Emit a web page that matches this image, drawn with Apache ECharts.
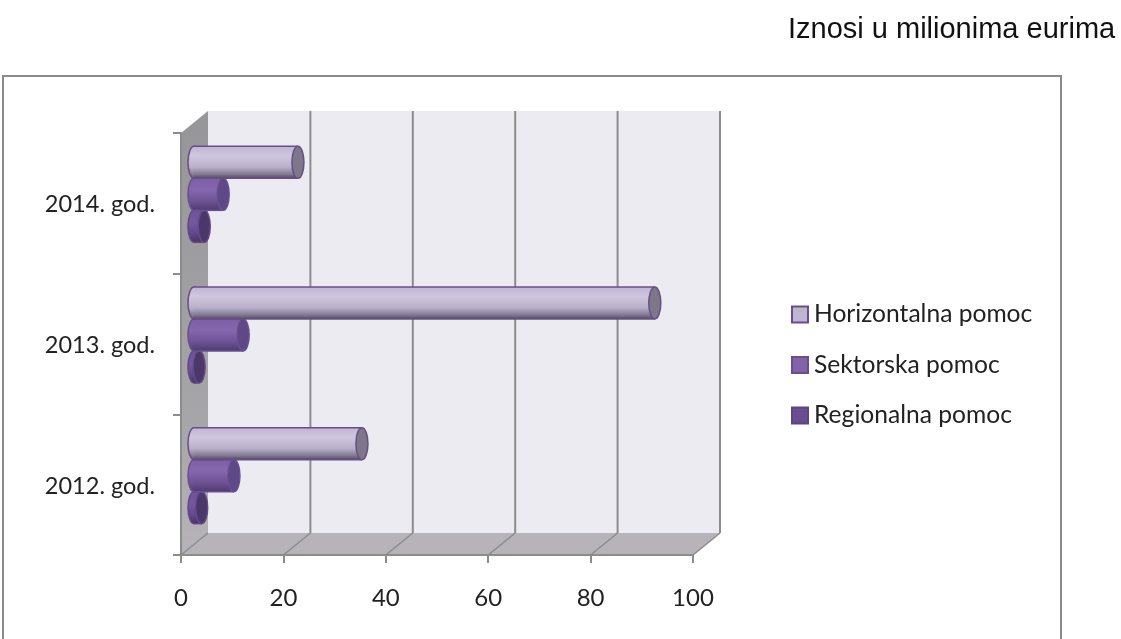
<!DOCTYPE html>
<html>
<head>
<meta charset="utf-8">
<style>
html,body{margin:0;padding:0;background:#fff;overflow:hidden}
#chart{width:1121px;height:639px}
</style>
<script src="https://cdn.jsdelivr.net/npm/echarts@6/dist/echarts.min.js"></script>
</head>
<body>
<div id="chart"></div>
<script>
var years = ['2012. god.', '2013. god.', '2014. god.'];
var xTicks = [0, 20, 40, 60, 80, 100];
var horizontalna = [32.8, 90, 20.3];
var sektorska = [7.8, 9.6, 5.7];
var regionalna = [1.5, 1, 2];

var chart = echarts.init(document.getElementById('chart'));
var LG = echarts.graphic.LinearGradient;

// depth of the fake 3d box, and where the bars sit inside it
var backDx = 27, backDy = -22;
var barDx = 13, barDy = -9;
var capRx = 6;
var gridCol = '#8c8c8e';

function grad(stops) {
	return new LG(0, 0, 0, 1, stops.map(function (s) {
		return { offset: s[0], color: s[1] };
	}));
}

// side wall, floor, back wall with grid lines
function renderBox(params, api) {
	var x0 = api.coord([0, 2])[0];
	var x1 = api.coord([100, 2])[0];
	var band = api.size([0, 1])[1];
	var top = api.coord([0, 2])[1] - band / 2;
	var bottom = api.coord([0, 0])[1] + band / 2;
	var kids = [
		{ type: 'rect', shape: { x: x0 + backDx, y: top + backDy, width: x1 - x0, height: bottom - top }, style: { fill: '#ecebf2' } },
		{ type: 'polygon', shape: { points: [[x0, top], [x0 + backDx, top + backDy], [x0 + backDx, bottom + backDy], [x0, bottom]] },
			style: { fill: grad([[0, '#969698'], [0.7, '#a6a5a8'], [1, '#b6b4b8']]) } },
		{ type: 'polygon', shape: { points: [[x0, bottom], [x0 + backDx, bottom + backDy], [x1 + backDx, bottom + backDy], [x1, bottom]] },
			style: { fill: '#b6b4b8' } }
	];
	xTicks.forEach(function (t) {
		var x = api.coord([t, 0])[0];
		if (t > 0) {
			kids.push({ type: 'line', shape: { x1: x + backDx, y1: top + backDy, x2: x + backDx, y2: bottom + backDy }, style: { stroke: gridCol, lineWidth: 2 } });
		}
		kids.push({ type: 'line', shape: { x1: x, y1: bottom, x2: x + backDx, y2: bottom + backDy }, style: { stroke: gridCol, lineWidth: 1.5 } });
	});
	return { type: 'group', children: kids };
}

// one cylinder; slot is -1,0,1 from the middle of the category
function cylinder(slot, body, cap, line) {
	return function (params, api) {
		var p0 = api.coord([0, api.value(1)]);
		var p1 = api.coord([api.value(0), api.value(1)]);
		var band = api.size([0, 1])[1];
		var h = band * 0.2275;
		var cy = p0[1] + barDy + slot * h;
		var xa = p0[0] + barDx;
		var xb = p1[0] + barDx;
		var ry = h / 2;
		return {
			type: 'group',
			children: [
				{ type: 'ellipse', shape: { cx: xa, cy: cy, rx: capRx, ry: ry }, style: { fill: grad(body), stroke: line, lineWidth: 1.5 } },
				{ type: 'rect', shape: { x: xa, y: cy - ry, width: xb - xa, height: h }, style: { fill: grad(body) } },
				{ type: 'line', shape: { x1: xa, y1: cy - ry, x2: xb, y2: cy - ry }, style: { stroke: line, lineWidth: 1.5 } },
				{ type: 'line', shape: { x1: xa, y1: cy + ry, x2: xb, y2: cy + ry }, style: { stroke: line, lineWidth: 1.5 } },
				{ type: 'ellipse', shape: { cx: xb, cy: cy, rx: capRx, ry: ry }, style: { fill: cap, stroke: line, lineWidth: 1.5 } }
			]
		};
	};
}

function toData(values) {
	return values.map(function (v, i) { return [v, i]; });
}

var hBody = [[0, '#c0b5d2'], [0.3, '#cfc6df'], [0.65, '#b9afc9'], [0.88, '#7f7690'], [1, '#54495f']];
var sBody = [[0, '#7d5fa6'], [0.35, '#8467ad'], [0.7, '#6f5396'], [1, '#4f3b70']];
var rBody = [[0, '#6f5398'], [0.4, '#74589e'], [0.75, '#5f4686'], [1, '#463460']];

var option = {
	backgroundColor: '#fff',
	animation: false,
	textStyle: { fontFamily: 'Lato' },
	title: {
		text: 'Iznosi u milionima eurima',
		left: 783,
		top: 10,
		textStyle: { fontFamily: 'Liberation Sans', fontSize: 29, fontWeight: 'normal', color: '#111' }
	},
	legend: {
		orient: 'vertical',
		left: 786,
		top: 297,
		itemWidth: 16,
		itemHeight: 16,
		itemGap: 25.5,
		icon: 'rect',
		data: ['Horizontalna pomoc', 'Sektorska pomoc', 'Regionalna pomoc'],
		textStyle: { fontFamily: 'Lato', fontSize: 24.6, color: '#222', padding: [0, 0, 0, 1] }
	},
	grid: { left: 181, top: 133, width: 512, height: 422 },
	xAxis: {
		type: 'value',
		z: 1,
		min: 0,
		max: 100,
		interval: 20,
		splitLine: { show: false },
		axisLine: { show: true, lineStyle: { color: gridCol, width: 2 } },
		axisTick: { show: true, length: 8, lineStyle: { color: gridCol, width: 2 } },
		axisLabel: { margin: 31, fontFamily: 'Lato', fontSize: 24, color: '#222' }
	},
	yAxis: {
		type: 'category',
		z: 1,
		data: years,
		axisLine: { show: true, lineStyle: { color: gridCol, width: 2 } },
		axisTick: { show: true, length: 8, lineStyle: { color: gridCol, width: 2 } },
		axisLabel: { margin: 26, fontFamily: 'Lato', fontSize: 23.5, color: '#222', lineHeight: 3, verticalAlign: 'top' }
	},
	graphic: [{
		type: 'rect',
		z: -1,
		shape: { x: 3, y: 76, width: 1058, height: 600 },
		style: { fill: 'none', stroke: '#8a8a8a', lineWidth: 2 }
	}],
	series: [
		{ type: 'custom', name: 'box', silent: true, z: 0, renderItem: renderBox, data: [[0, 0]], encode: { x: 0, y: 1 } },
		{ type: 'custom', name: 'Regionalna pomoc', z: 2, data: toData(regionalna), encode: { x: 0, y: 1 },
			itemStyle: { color: '#6a4f90', borderColor: '#5c4580', borderWidth: 1 },
			renderItem: cylinder(1, rBody, '#4b3869', '#63498a') },
		{ type: 'custom', name: 'Sektorska pomoc', z: 3, data: toData(sektorska), encode: { x: 0, y: 1 },
			itemStyle: { color: '#8263a8', borderColor: '#684e8e', borderWidth: 1 },
			renderItem: cylinder(0, sBody, '#5f4888', '#6a4f90') },
		{ type: 'custom', name: 'Horizontalna pomoc', z: 4, data: toData(horizontalna), encode: { x: 0, y: 1 },
			itemStyle: { color: '#bfb5d1', borderColor: '#684e8e', borderWidth: 2 },
			renderItem: cylinder(-1, hBody, '#7d7789', '#664f88') }
	]
};
chart.setOption(option);
</script>
</body>
</html>
